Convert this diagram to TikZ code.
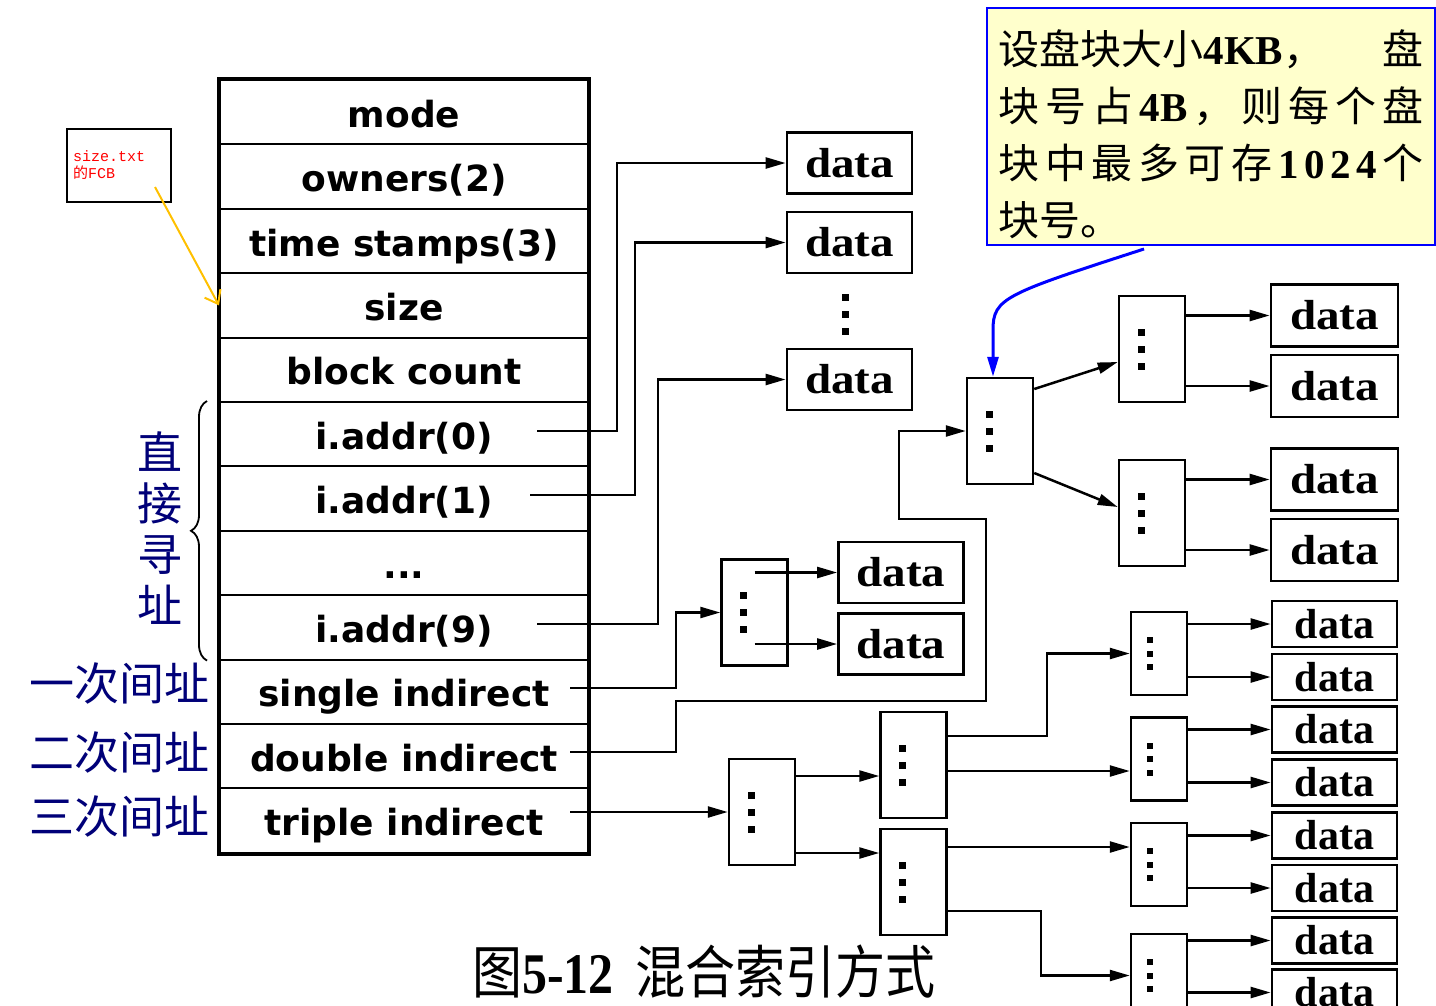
\documentclass[tikz,border=0pt]{standalone}
\usepackage{fontspec}
\usepackage{graphicx}
\usetikzlibrary{arrows.meta,decorations.pathreplacing}
\setmainfont{Liberation Serif}
\newfontfamily\cjk{Noto Sans CJK SC}
\newfontfamily\rowsans{DejaVu Sans}
\newfontfamily\fcbmono{Liberation Mono}
\definecolor{labelnavy}{RGB}{0,0,120}
\definecolor{noteyellow}{RGB}{255,255,204}
\definecolor{fcbline}{RGB}{255,192,0}
\newcommand{\sqdots}{\rule{7pt}{7pt}\\\rule{7pt}{7pt}\\\rule{7pt}{7pt}}
\newcommand{\leafsqdots}{\rule{6pt}{6pt}\\\rule{6pt}{6pt}\\\rule{6pt}{6pt}}
\newcommand{\widedata}{\scalebox{1.12}[1]{data}}
\newcommand{\lat}[1]{{\rmfamily\bfseries #1}}

\begin{document}
\begin{tikzpicture}[x=1pt, y=-1pt,
  row/.style={draw, line width=2pt, minimum width=368pt, minimum height=64.4pt, inner sep=0pt, text height=30pt, text depth=0pt, font=\rowsans\bfseries\fontsize{36}{40}\selectfont},
  datab/.style={draw, line width=2.8pt, minimum width=125pt, minimum height=61pt, inner sep=0pt, font=\bfseries\fontsize{42}{46}\selectfont},
  leafdata/.style={datab, minimum height=46pt},
  dotcol/.style={align=center, inner sep=0pt, font=\fontsize{10}{17}\selectfont},
  leafdotcol/.style={align=center, inner sep=0pt, font=\fontsize{10}{13.5}\selectfont},
  idxbox/.style={draw, line width=2.5pt, minimum width=66pt, minimum height=106pt, inner sep=0pt, label={[dotcol, xshift=-11pt]center:\sqdots}},
  leafidx/.style={draw, line width=2.5pt, minimum width=56pt, minimum height=83pt, inner sep=0pt, label={[leafdotcol, xshift=-9pt]center:\leafsqdots}},
  arrow/.style={-{Triangle[length=20pt, width=11pt]}, line width=2.5pt},
  notearrow/.style={arrow, draw=blue, line width=3pt},
  fcbarrow/.style={-{Straight Barb[length=12pt, width=18pt]}, draw=fcbline, line width=2pt},
  dirbrace/.style={decorate, decoration={brace, amplitude=16pt}, line width=1.8pt},
  cnlabel/.style={text=labelnavy, inner sep=0pt, font=\cjk\fontsize{45}{51}\selectfont},
  notebox/.style={draw=blue, line width=1.5pt, fill=noteyellow, minimum width=448pt, minimum height=237pt, text width=425pt, align=left, inner sep=0pt, font=\cjk\fontsize{41}{57}\selectfont},
  fcbbox/.style={draw, line width=2pt, minimum width=104pt, minimum height=73pt, text width=92pt, align=left, inner sep=0pt, text=red, font=\fcbmono\fontsize{15}{17}\selectfont}
]
\useasboundingbox (0,0) rectangle (1436,1005);

\node[row] (mode) at (404,112.2) {mode};
\node[row] (owners) at (404,176.6) {owners(2)};
\node[row] (stamps) at (404,241) {time stamps(3)};
\node[row] (size) at (404,305.4) {size};
\node[row] (count) at (404,369.8) {block count};
\node[row] (addr0) at (404,434.2) {i.addr(0)};
\node[row] (addr1) at (404,498.6) {i.addr(1)};
\node[row] (addrdots) at (404,563) {...};
\node[row] (addr9) at (404,627.4) {i.addr(9)};
\node[row] (single) at (404,691.8) {single indirect};
\node[row] (double) at (404,756.2) {double indirect};
\node[row] (triple) at (404,820.6) {triple indirect};
\draw[line width=4pt] (mode.north west) rectangle (triple.south east);

\node[fcbbox] (fcb) at (119,165.5) {size.txt\\{\cjk 的}FCB};
\coordinate (fcbtail) at (155,187);
\draw[fcbarrow] (fcbtail) -- (size.west);

\draw[dirbrace] ([xshift=-12pt]addr9.south west) -- ([xshift=-12pt]addr0.north west);
\node[cnlabel, align=center] (lbldirect) at (160,528) {直\\接\\寻\\址};
\node[cnlabel, anchor=east] (lblsingle) at (210,683) {一次间址};
\node[cnlabel, anchor=east] (lbldouble) at (210,752) {二次间址};
\node[cnlabel, anchor=east] (lbltriple) at (210,816) {三次间址};

\node[datab] (d0) at (849.5,163) {\widedata};
\node[datab] (d1) at (849.5,242.5) {\widedata};
\node[dotcol] (ddots) at (845,314) {\sqdots};
\node[datab] (d9) at (849.5,379.5) {\widedata};

\node[idxbox] (sidx) at (754.5,612.5) {};
\node[datab] (sd1) at (901,572.5) {\widedata};
\node[datab] (sd2) at (901,644) {\widedata};

\node[idxbox] (dblA) at (1000,431) {};
\node[idxbox] (B1) at (1152,349) {};
\node[idxbox] (B2) at (1152,513) {};
\node[datab, minimum width=127pt, minimum height=62pt] (m1) at (1334.5,315.5) {\widedata};
\node[datab, minimum width=127pt, minimum height=62pt] (m2) at (1334.5,386) {\widedata};
\node[datab, minimum width=127pt, minimum height=62pt] (m3) at (1334.5,479.5) {\widedata};
\node[datab, minimum width=127pt, minimum height=62pt] (m4) at (1334.5,550) {\widedata};

\node[idxbox] (T0) at (762,812) {};
\node[idxbox] (T1) at (913.5,765) {};
\node[idxbox] (T2) at (913.5,882) {};
\node[leafidx] (L1) at (1159,653.5) {};
\node[leafidx] (L2) at (1159,759) {};
\node[leafidx] (L3) at (1159,864.5) {};
\node[leafidx] (L4) at (1159,975.5) {};
\node[leafdata] (r1) at (1334.5,624) {data};
\node[leafdata] (r2) at (1334.5,677) {data};
\node[leafdata] (r3) at (1334.5,729.5) {data};
\node[leafdata] (r4) at (1334.5,782.5) {data};
\node[leafdata] (r5) at (1334.5,835.5) {data};
\node[leafdata] (r6) at (1334.5,888) {data};
\node[leafdata] (r7) at (1334.5,940.5) {data};
\node[leafdata] (r8) at (1334.5,992.5) {data};

\node[notebox] (note) at (1211,126.5) {\rule{0pt}{51pt}\makebox[425pt][s]{设盘块大小\lat{4KB}，\hfill 盘}\\
\makebox[425pt][s]{块\hfill 号\hfill 占\hfill\lat{4B}\hfill ，\hfill 则\hfill 每\hfill 个\hfill 盘}\\
\makebox[425pt][s]{块\hfill 中\hfill 最\hfill 多\hfill 可\hfill 存\hfill\lat{1}\hfill\lat{0}\hfill\lat{2}\hfill\lat{4}\hfill 个}\\
块号。};
\coordinate (notetail) at (1144,249);
\draw[notearrow] (notetail) .. controls (1005,294) and (993,298) .. (993,330) -- ([xshift=-7pt]dblA.north);

\node[anchor=west, inner sep=0pt, font=\cjk\fontsize{50}{54}\selectfont] (caption) at (472,972) {\scalebox{1}[1.15]{图\lat{5-12}\hspace{22pt}混合索引方式}};

\coordinate (a0start) at (537,431);
\coordinate (a1start) at (530,495);
\coordinate (a9start) at (537,624);
\coordinate (sstart) at (570,688);
\coordinate (dstart) at (570,752);
\coordinate (tstart) at (570,812);
\draw[arrow] (a0start) -- ++(80,0) |- (d0.west);
\draw[arrow] (a1start) -- ++(105,0) |- (d1.west);
\draw[arrow] (a9start) -- ++(121,0) |- (d9.west);
\draw[arrow] (sstart) -- ++(106,0) |- (sidx.west);
\draw[arrow] (sidx.center |- sd1.west) -- (sd1.west);
\draw[arrow] (sidx.center |- sd2.west) -- (sd2.west);
\draw[arrow] (dstart) -| (676,701) -| (986,519) -| (899,431) -- (dblA.west);
\draw[arrow] ([yshift=42pt]dblA.east) -- ([yshift=-13pt]B1.west);
\draw[arrow] ([yshift=-42pt]dblA.east) -- ([yshift=6pt]B2.west);
\draw[arrow] (B1.east |- m1.west) -- (m1.west);
\draw[arrow] (B1.east |- m2.west) -- (m2.west);
\draw[arrow] (B2.east |- m3.west) -- (m3.west);
\draw[arrow] (B2.east |- m4.west) -- (m4.west);
\draw[arrow] (tstart) -- (T0.west);
\draw[arrow] ([yshift=36pt]T0.east) -- ([yshift=-11pt]T1.west);
\draw[arrow] ([yshift=-41pt]T0.east) -- ([yshift=29pt]T2.west);
\draw[arrow] ([yshift=29pt]T1.east) -- ++(99,0) |- (L1.west);
\draw[arrow] ([yshift=-6pt]T1.east) -- ([yshift=-12pt]L2.west);
\draw[arrow] ([yshift=35pt]T2.east) -- ([yshift=17.5pt]L3.west);
\draw[arrow] ([yshift=-29pt]T2.east) -- ++(93,0) |- (L4.west);
\draw[arrow] (L1.east |- r1.west) -- (r1.west);
\draw[arrow] (L1.east |- r2.west) -- (r2.west);
\draw[arrow] (L2.east |- r3.west) -- (r3.west);
\draw[arrow] (L2.east |- r4.west) -- (r4.west);
\draw[arrow] (L3.east |- r5.west) -- (r5.west);
\draw[arrow] (L3.east |- r6.west) -- (r6.west);
\draw[arrow] (L4.east |- r7.west) -- (r7.west);
\draw[arrow] (L4.east |- r8.west) -- (r8.west);
\end{tikzpicture}
\end{document}
